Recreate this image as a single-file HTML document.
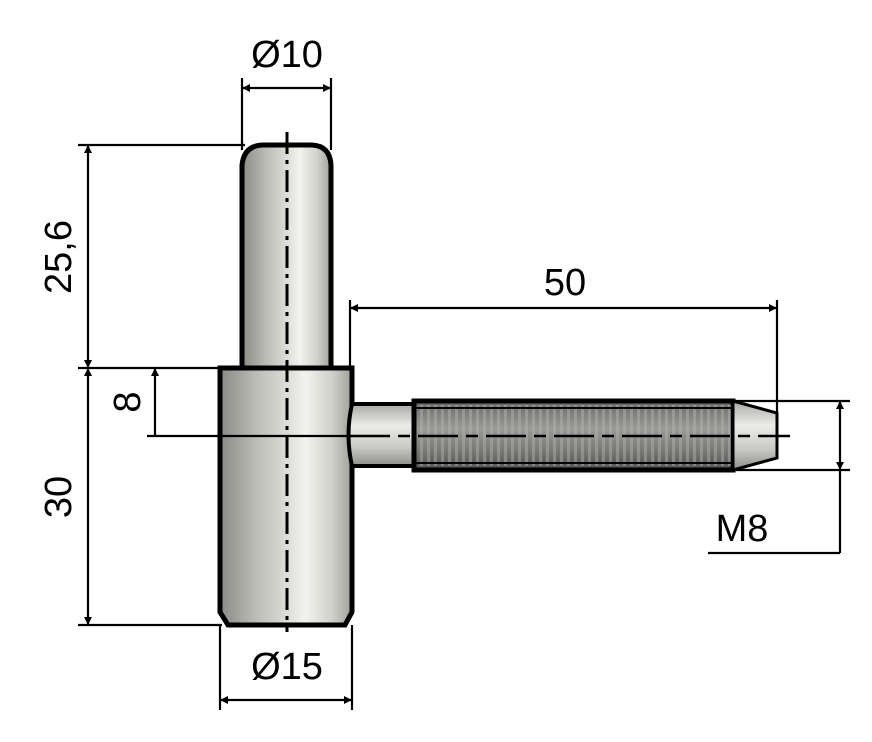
<!DOCTYPE html>
<html><head><style>body{margin:0;background:#fff}svg{display:block}</style></head><body>
<svg width="872" height="742" viewBox="0 0 872 742" xmlns="http://www.w3.org/2000/svg" font-family="Liberation Sans, sans-serif">
<defs>
<linearGradient id="cyl" x1="0" x2="1" y1="0" y2="0">
<stop offset="0" stop-color="#8a8a86"/><stop offset="0.25" stop-color="#b8b8b2"/><stop offset="0.65" stop-color="#f2f2ee"/><stop offset="0.85" stop-color="#d0d0ca"/><stop offset="1" stop-color="#a0a09a"/>
</linearGradient>
<linearGradient id="hcyl" x1="0" x2="0" y1="0" y2="1">
<stop offset="0" stop-color="#a8a8a4"/><stop offset="0.35" stop-color="#ececea"/><stop offset="0.7" stop-color="#c8c8c4"/><stop offset="1" stop-color="#8e8e8a"/>
</linearGradient>
<linearGradient id="thr" x1="0" x2="0" y1="0" y2="1">
<stop offset="0" stop-color="#6a6a68"/><stop offset="0.4" stop-color="#9a9a98"/><stop offset="0.7" stop-color="#7a7a78"/><stop offset="1" stop-color="#555"/>
</linearGradient>
<pattern id="tp" width="7" height="10" patternUnits="userSpaceOnUse"><rect width="3" height="10" fill="#b5b5b2" opacity="0.45"/></pattern>
<marker id="a" viewBox="0 0 10 10" refX="10" refY="5" markerWidth="18" markerHeight="8" markerUnits="userSpaceOnUse" orient="auto-start-reverse"><path d="M0,0L10,5L0,10z" fill="#000"/></marker>
</defs>
<path d="M242,368 V165 Q244,146 262,145 H312 Q330,146 331,165 V368 Z" fill="url(#cyl)" stroke="#000" stroke-width="5"/>
<path d="M220,368 H352 V612 L345,625 H228 L220,612 Z" fill="url(#cyl)" stroke="#000" stroke-width="5"/>
<path d="M352,404 H414 V466 H352 Q345,435 352,404 Z" fill="url(#hcyl)" stroke="#000" stroke-width="4"/>
<rect x="414" y="401" width="319" height="69" fill="url(#thr)" stroke="#000" stroke-width="5"/>
<rect x="416" y="405" width="315" height="61" fill="url(#tp)"/>
<line x1="414" y1="408" x2="733" y2="408" stroke="#000" stroke-width="2"/>
<line x1="414" y1="463" x2="733" y2="463" stroke="#000" stroke-width="2"/>
<path d="M733,401 L777,413 V458 L733,470 Z" fill="url(#hcyl)" stroke="#000" stroke-width="3"/>
<line x1="287" y1="132" x2="287" y2="632" stroke="#000" stroke-width="3" stroke-dasharray="22,6,4,6"/>
<line x1="350" y1="436" x2="790" y2="436" stroke="#000" stroke-width="2.5" stroke-dasharray="40,8,12,8"/>
<g stroke="#000" stroke-width="2.2" fill="none">
<line x1="242" y1="78" x2="242" y2="150"/><line x1="331" y1="78" x2="331" y2="150"/>
<line x1="242" y1="88" x2="331" y2="88" marker-start="url(#a)" marker-end="url(#a)"/>
<line x1="78" y1="145" x2="245" y2="145"/><line x1="78" y1="368" x2="222" y2="368"/><line x1="78" y1="625" x2="222" y2="625"/>
<line x1="88" y1="145" x2="88" y2="368" marker-start="url(#a)" marker-end="url(#a)"/>
<line x1="88" y1="368" x2="88" y2="625" marker-start="url(#a)" marker-end="url(#a)"/>
<line x1="147" y1="436" x2="352" y2="436"/>
<line x1="155" y1="436" x2="155" y2="368" marker-end="url(#a)"/>
<line x1="350" y1="300" x2="350" y2="370"/><line x1="777" y1="300" x2="777" y2="415"/>
<line x1="350" y1="308" x2="777" y2="308" marker-start="url(#a)" marker-end="url(#a)"/>
<line x1="735" y1="401" x2="850" y2="401"/><line x1="735" y1="470" x2="850" y2="470"/>
<line x1="840" y1="401" x2="840" y2="470" marker-start="url(#a)" marker-end="url(#a)"/>
<line x1="840" y1="470" x2="840" y2="553"/><line x1="708" y1="553" x2="840" y2="553"/>
<line x1="220" y1="625" x2="220" y2="710"/><line x1="352" y1="625" x2="352" y2="710"/>
<line x1="220" y1="700" x2="352" y2="700" marker-start="url(#a)" marker-end="url(#a)"/>
</g>
<g font-size="38" fill="#000">
<text x="287" y="67" text-anchor="middle">Ø10</text>
<text x="287" y="679" text-anchor="middle">Ø15</text>
<text x="565" y="295" text-anchor="middle">50</text>
<text x="742" y="541" text-anchor="middle">M8</text>
<text transform="translate(71,257) rotate(-90)" text-anchor="middle">25,6</text>
<text transform="translate(71,497) rotate(-90)" text-anchor="middle">30</text>
<text transform="translate(140,402) rotate(-90)" text-anchor="middle">8</text>
</g>
</svg>
</body></html>
